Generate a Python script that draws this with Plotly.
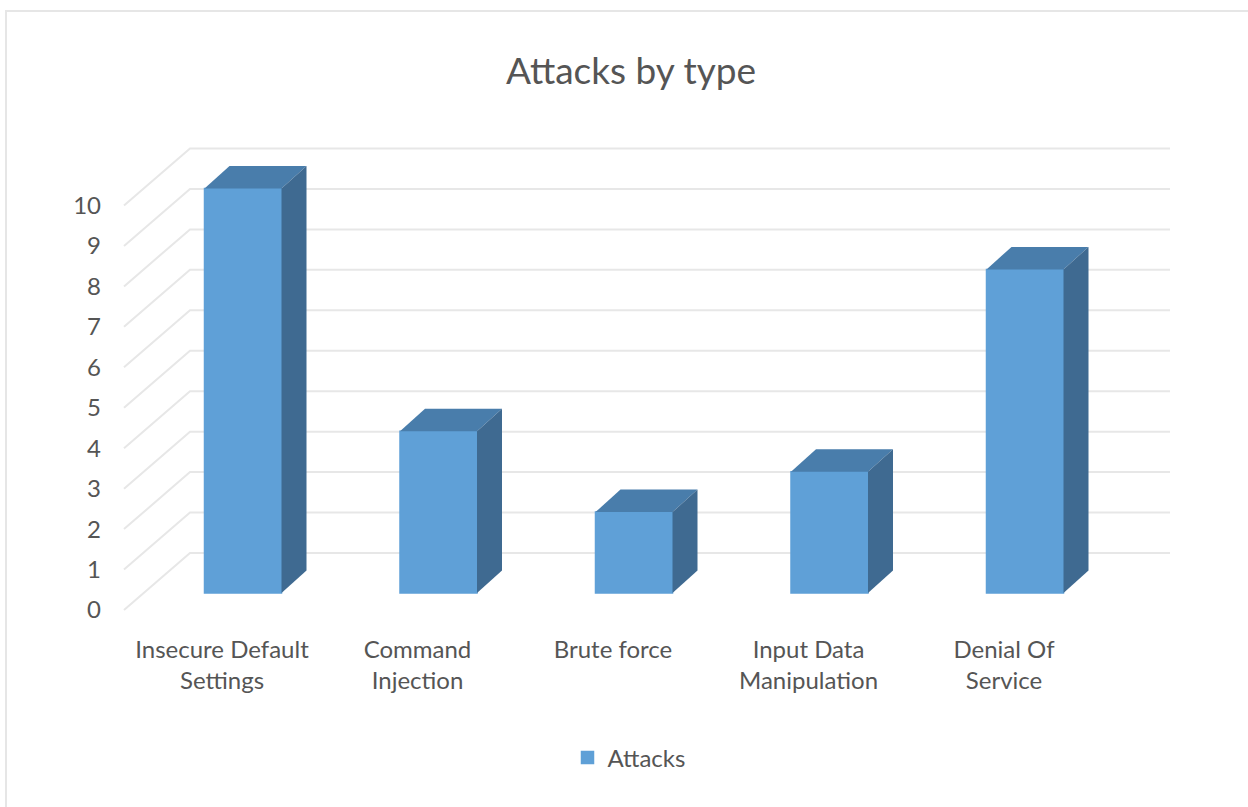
import plotly.graph_objects as go

# Chart data
categories = ["Insecure Default<br>Settings", "Command<br>Injection", "Brute force",
              "Input Data<br>Manipulation", "Denial Of<br>Service"]
attacks = [10, 4, 2, 3, 8]
value_ticks = list(range(0, 11))

WIDTH, HEIGHT = 1248, 807
FONT = "Lato"
TEXT = "#555555"
FRONT, TOP, SIDE = "#5FA0D7", "#497DAB", "#3F6A91"
GRID = "#E7E7E7"

# Plot frame in pixels and the scale of each axis
LEFT, RIGHT, UPPER, LOWER = 118, 1180, 120, 626
CAT_ORIGIN, CAT_STEP = 243.0, 195.5
UNIT = 40.45
FLOOR_FRONT, BAR_BASE, FLOOR_BACK = 610.0, 593.0, 553.0

cat_of = lambda px: (px - CAT_ORIGIN) / CAT_STEP
x_range = [cat_of(LEFT), cat_of(RIGHT)]
y_range = [(FLOOR_FRONT - LOWER) / UNIT, (FLOOR_FRONT - UPPER) / UNIT]
y2_range = [(BAR_BASE - LOWER) / UNIT, (BAR_BASE - UPPER) / UNIT]

# Perspective offsets of the box faces, in axis units
BAR_WIDTH = 77 / CAT_STEP
DEPTH_X = 25 / CAT_STEP
DEPTH_Y = 22.5 / UNIT
WALL_RISE = (FLOOR_FRONT - FLOOR_BACK) / UNIT
LABEL_SHIFT = 21 / CAT_STEP
wall_left, wall_right, side_left = cat_of(190), cat_of(1170), cat_of(124)

fig = go.Figure()

# Side wall and back wall gridlines
for v in value_ticks:
    fig.add_trace(go.Scatter(
        x=[side_left, wall_left, wall_right], y=[v, v + WALL_RISE, v + WALL_RISE],
        mode="lines", line=dict(color=GRID, width=2),
        showlegend=False, hoverinfo="skip", yaxis="y"))

# Front faces
positions = list(range(len(attacks)))
fig.add_trace(go.Bar(
    x=positions, y=attacks, width=BAR_WIDTH, name="Attacks",
    marker=dict(color=FRONT, line=dict(width=1.5, color=FRONT)),
    yaxis="y2", showlegend=True))

# Top and side faces follow each bar's value
for i, v in zip(positions, attacks):
    l, r = i - BAR_WIDTH / 2, i + BAR_WIDTH / 2
    fig.add_trace(go.Scatter(
        x=[l, r, r + DEPTH_X, l + DEPTH_X, l],
        y=[v, v, v + DEPTH_Y, v + DEPTH_Y, v],
        mode="lines", fill="toself", fillcolor=TOP, line=dict(width=0),
        showlegend=False, hoverinfo="skip", yaxis="y2"))
    fig.add_trace(go.Scatter(
        x=[r, r + DEPTH_X, r + DEPTH_X, r, r],
        y=[0, DEPTH_Y, v + DEPTH_Y, v, 0],
        mode="lines", fill="toself", fillcolor=SIDE, line=dict(width=0),
        showlegend=False, hoverinfo="skip", yaxis="y2"))

x_domain = [LEFT / WIDTH, RIGHT / WIDTH]
y_domain = [1 - LOWER / HEIGHT, 1 - UPPER / HEIGHT]

fig.update_layout(
    width=WIDTH, height=HEIGHT,
    margin=dict(l=0, r=0, t=0, b=0),
    paper_bgcolor="white", plot_bgcolor="rgba(0,0,0,0)",
    font=dict(family=FONT, color=TEXT),
    title=dict(text="Attacks by type", x=631 / WIDTH, xanchor="center",
               y=1 - 71 / HEIGHT, yanchor="middle",
               font=dict(family=FONT, size=37, color=TEXT)),
    xaxis=dict(domain=x_domain, range=x_range, showgrid=False, zeroline=False,
               showline=False, ticks="", tickmode="array",
               tickvals=[i - LABEL_SHIFT for i in positions], ticktext=categories,
               tickfont=dict(family=FONT, size=24, color=TEXT),
               ticklabelstandoff=7),
    yaxis=dict(domain=y_domain, range=y_range, showgrid=False, zeroline=False,
               showline=False, ticks="", tickmode="array",
               tickvals=value_ticks, ticktext=[str(v) for v in value_ticks],
               tickfont=dict(family=FONT, size=24, color=TEXT),
               ticklabelstandoff=16),
    yaxis2=dict(domain=y_domain, range=y2_range, overlaying="y", visible=False),
    legend=dict(x=629 / WIDTH, xanchor="center", y=1 - 758 / HEIGHT, yanchor="middle",
                orientation="h", bgcolor="rgba(0,0,0,0)",
                font=dict(family=FONT, size=24, color=TEXT)),
    shapes=[dict(type="path", xref="paper", yref="paper",
                 path=f"M {6 / WIDTH} 0 L {6 / WIDTH} {1 - 11 / HEIGHT} L 1 {1 - 11 / HEIGHT}",
                 line=dict(color="#E6E6E6", width=2))],
)

fig.write_html("out.html")
